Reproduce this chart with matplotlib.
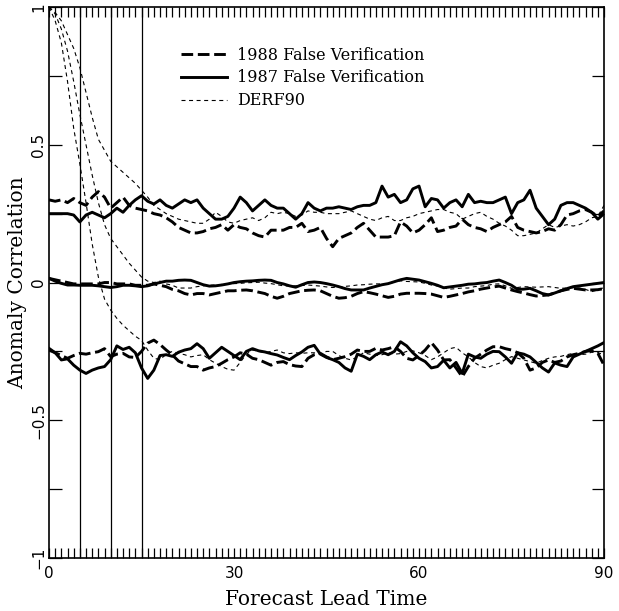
import matplotlib
matplotlib.use("Agg")
import matplotlib.pyplot as plt
import numpy as np

lead_time = list(range(0, 91))

top_1988 = [0.30, 0.295, 0.30, 0.29, 0.305, 0.29, 0.28, 0.31, 0.33, 0.31, 0.27, 0.29, 0.31, 0.28, 0.27,
            0.265, 0.26, 0.25, 0.245, 0.235, 0.22, 0.20, 0.19, 0.18, 0.18, 0.185, 0.195, 0.20, 0.21, 0.19,
            0.21, 0.20, 0.195, 0.18, 0.17, 0.165, 0.19, 0.19, 0.19, 0.20, 0.20, 0.215, 0.185, 0.19, 0.20,
            0.16, 0.13, 0.16, 0.17, 0.18, 0.20, 0.215, 0.19, 0.165, 0.165, 0.165, 0.17, 0.22, 0.205, 0.18,
            0.19, 0.21, 0.235, 0.185, 0.19, 0.20, 0.205, 0.23, 0.21, 0.20, 0.195, 0.185, 0.20, 0.21, 0.22,
            0.24, 0.20, 0.19, 0.185, 0.18, 0.185, 0.195, 0.19, 0.21, 0.245, 0.25, 0.26, 0.265, 0.255, 0.24,
            0.26]
top_1987 = [0.25, 0.25, 0.25, 0.25, 0.245, 0.22, 0.245, 0.255, 0.245, 0.235, 0.25, 0.27, 0.255, 0.28, 0.30,
            0.315, 0.295, 0.285, 0.30, 0.28, 0.27, 0.285, 0.30, 0.29, 0.30, 0.27, 0.25, 0.23, 0.23, 0.24,
            0.27, 0.31, 0.29, 0.26, 0.28, 0.30, 0.28, 0.27, 0.27, 0.25, 0.23, 0.25, 0.29, 0.27, 0.26,
            0.27, 0.27, 0.275, 0.27, 0.265, 0.275, 0.28, 0.28, 0.29, 0.35, 0.31, 0.32, 0.29, 0.30, 0.34,
            0.35, 0.275, 0.305, 0.30, 0.27, 0.29, 0.30, 0.275, 0.32, 0.29, 0.295, 0.29, 0.29, 0.30, 0.31,
            0.25, 0.29, 0.30, 0.335, 0.27, 0.24, 0.21, 0.23, 0.28, 0.29, 0.29, 0.28, 0.27, 0.255, 0.23,
            0.25]
top_derf = [1.0, 0.98, 0.95, 0.90, 0.85, 0.78, 0.69, 0.60, 0.52, 0.48, 0.44, 0.42, 0.40, 0.38, 0.36,
            0.335, 0.31, 0.28, 0.265, 0.25, 0.24, 0.23, 0.225, 0.22, 0.215, 0.215, 0.23, 0.255, 0.24, 0.22,
            0.215, 0.225, 0.23, 0.235, 0.225, 0.235, 0.255, 0.25, 0.255, 0.25, 0.24, 0.245, 0.26, 0.255, 0.255,
            0.25, 0.25, 0.25, 0.255, 0.26, 0.25, 0.24, 0.23, 0.225, 0.235, 0.24, 0.225, 0.225, 0.235, 0.24,
            0.25, 0.255, 0.26, 0.265, 0.265, 0.255, 0.25, 0.23, 0.24, 0.25, 0.255, 0.24, 0.23, 0.215, 0.205,
            0.19, 0.17, 0.17, 0.175, 0.18, 0.195, 0.21, 0.20, 0.205, 0.21, 0.205, 0.21, 0.22, 0.235, 0.24,
            0.28]

mid_1988 = [0.015, 0.01, 0.005, 0.0, -0.005, -0.005, -0.005, -0.005, -0.005, 0.0, 0.0, -0.005, -0.005, -0.005, -0.01,
            -0.01, -0.01, -0.005, -0.01, -0.015, -0.025, -0.03, -0.04, -0.045, -0.04, -0.04, -0.045, -0.04, -0.035, -0.03,
            -0.03, -0.028, -0.027, -0.03, -0.035, -0.04, -0.05, -0.057, -0.05, -0.04, -0.035, -0.03, -0.028, -0.027, -0.03,
            -0.04, -0.05, -0.057, -0.055, -0.05, -0.04, -0.033, -0.037, -0.042, -0.048, -0.054, -0.05, -0.042, -0.039, -0.039,
            -0.039, -0.04, -0.042, -0.048, -0.054, -0.05, -0.045, -0.04, -0.034, -0.03, -0.024, -0.02, -0.016, -0.013, -0.02,
            -0.027, -0.033, -0.038, -0.044, -0.049, -0.047, -0.045, -0.038, -0.03, -0.025, -0.021, -0.024, -0.027, -0.027, -0.026,
            -0.022]
mid_1987 = [0.015, 0.005, -0.003, -0.009, -0.009, -0.01, -0.01, -0.01, -0.012, -0.015, -0.018, -0.015, -0.01, -0.01, -0.012,
            -0.015, -0.012, -0.005, 0.0, 0.005, 0.005, 0.008, 0.009, 0.008, 0.0, -0.008, -0.013, -0.012, -0.009, -0.005,
            0.0, 0.003, 0.005, 0.006, 0.008, 0.009, 0.008, 0.0, -0.005, -0.012, -0.017, -0.008, 0.0, 0.002, 0.0,
            -0.004, -0.009, -0.015, -0.022, -0.027, -0.027, -0.027, -0.02, -0.014, -0.008, -0.004, 0.003, 0.01, 0.015, 0.012,
            0.009, 0.003, -0.003, -0.01, -0.019, -0.016, -0.013, -0.01, -0.006, -0.005, -0.002, 0.0, 0.005, 0.009, 0.0,
            -0.01, -0.025, -0.024, -0.021, -0.03, -0.04, -0.045, -0.038, -0.03, -0.022, -0.015, -0.012, -0.009, -0.006, -0.003,
            0.0]
mid_derf = [1.0, 0.975, 0.92, 0.84, 0.73, 0.61, 0.50, 0.39, 0.29, 0.21, 0.16, 0.13, 0.10, 0.07, 0.045,
            0.02, 0.005, 0.0, 0.005, -0.005, -0.01, -0.02, -0.02, -0.02, -0.015, -0.012, -0.01, -0.009, -0.007, -0.005,
            -0.004, -0.003, -0.001, 0.0, 0.001, -0.002, -0.004, -0.008, -0.012, -0.013, -0.012, -0.011, -0.009, -0.011, -0.013,
            -0.016, -0.018, -0.016, -0.014, -0.012, -0.009, -0.008, -0.006, -0.005, -0.005, -0.005, 0.002, 0.006, 0.004, 0.003,
            0.002, -0.003, -0.009, -0.013, -0.02, -0.024, -0.022, -0.02, -0.02, -0.015, -0.013, -0.011, -0.006, -0.005, -0.012,
            -0.021, -0.018, -0.015, -0.016, -0.017, -0.016, -0.015, -0.018, -0.021, -0.02, -0.019, -0.02, -0.025, -0.033, -0.027,
            -0.018]

bot_1988 = [-0.245, -0.255, -0.265, -0.275, -0.265, -0.257, -0.26, -0.255, -0.251, -0.24, -0.269, -0.26, -0.257, -0.27, -0.272,
            -0.25, -0.22, -0.209, -0.225, -0.245, -0.263, -0.285, -0.295, -0.305, -0.305, -0.318, -0.31, -0.305, -0.293, -0.28,
            -0.27, -0.255, -0.26, -0.275, -0.28, -0.29, -0.30, -0.29, -0.287, -0.298, -0.303, -0.305, -0.275, -0.262, -0.257,
            -0.27, -0.28, -0.275, -0.269, -0.26, -0.245, -0.25, -0.25, -0.239, -0.245, -0.24, -0.233, -0.25, -0.275, -0.281,
            -0.265, -0.245, -0.218, -0.245, -0.281, -0.28, -0.31, -0.342, -0.305, -0.275, -0.26, -0.245, -0.233, -0.233, -0.24,
            -0.245, -0.255, -0.275, -0.318, -0.31, -0.29, -0.281, -0.29, -0.285, -0.27, -0.262, -0.257, -0.25, -0.247, -0.257,
            -0.30]
bot_1987 = [-0.239, -0.255, -0.281, -0.277, -0.30, -0.318, -0.33, -0.318, -0.31, -0.305, -0.28, -0.23, -0.243, -0.235, -0.255,
            -0.31, -0.348, -0.318, -0.265, -0.262, -0.268, -0.253, -0.245, -0.24, -0.222, -0.24, -0.275, -0.255, -0.235, -0.25,
            -0.265, -0.28, -0.25, -0.24, -0.248, -0.252, -0.258, -0.263, -0.272, -0.28, -0.265, -0.252, -0.235, -0.228, -0.26,
            -0.272, -0.28, -0.29, -0.31, -0.322, -0.26, -0.268, -0.28, -0.262, -0.252, -0.262, -0.25, -0.215, -0.23, -0.255,
            -0.275, -0.287, -0.31, -0.305, -0.282, -0.31, -0.29, -0.33, -0.26, -0.27, -0.275, -0.26, -0.25, -0.251, -0.27,
            -0.293, -0.255, -0.26, -0.27, -0.29, -0.31, -0.325, -0.292, -0.30, -0.305, -0.27, -0.26, -0.25, -0.24, -0.23,
            -0.218]
bot_derf = [1.0, 0.95, 0.87, 0.73, 0.56, 0.43, 0.29, 0.14, 0.02, -0.06, -0.10, -0.13, -0.155, -0.175, -0.195,
            -0.21, -0.245, -0.275, -0.28, -0.26, -0.25, -0.257, -0.262, -0.27, -0.265, -0.262, -0.28, -0.293, -0.305, -0.315,
            -0.318, -0.29, -0.26, -0.245, -0.25, -0.255, -0.25, -0.245, -0.255, -0.258, -0.255, -0.257, -0.255, -0.255, -0.26,
            -0.25, -0.25, -0.265, -0.275, -0.281, -0.27, -0.255, -0.26, -0.265, -0.262, -0.255, -0.26, -0.258, -0.25, -0.248,
            -0.255, -0.265, -0.28, -0.27, -0.255, -0.24, -0.235, -0.255, -0.27, -0.29, -0.305, -0.31, -0.30, -0.293, -0.28,
            -0.269, -0.275, -0.281, -0.287, -0.293, -0.283, -0.275, -0.27, -0.268, -0.262, -0.257, -0.262, -0.26, -0.253, -0.255,
            -0.262]

vertical_marks = [5, 10, 15]
series_labels = ["1988 False Verification", "1987 False Verification", "DERF90"]
x_ticks = [0, 30, 60, 90]
y_ticks = [-1, -0.75, -0.5, -0.25, 0, 0.25, 0.5, 0.75, 1]
y_tick_labels = ["\u22121", "", "\u22120.5", "", "0", "", "0.5", "", "1"]

SERIF = ["DejaVu Serif"]

fig = plt.figure(figsize=(6.19, 6.11), dpi=100)
ax = fig.add_axes([0.0792, 0.0867, 0.8966, 0.9018])

dash_thick = (4, 1.6)
dash_thin = (3.6, 3.2)

for xv in vertical_marks:
    ax.axvline(xv, color="black", lw=0.9, zorder=1)

h88 = None
for data in (top_1988, mid_1988, bot_1988):
    h88, = ax.plot(lead_time, data, color="black", lw=2.1, dashes=dash_thick, zorder=3)
h87 = None
for data in (top_1987, mid_1987, bot_1987):
    h87, = ax.plot(lead_time, data, color="black", lw=2.1, zorder=3)
hd = None
for data in (top_derf, mid_derf, bot_derf):
    hd, = ax.plot(lead_time, data, color="black", lw=0.8, dashes=dash_thin, zorder=2)

ax.set_xlim(0, 90)
ax.set_ylim(-1, 1)
ax.set_xticks(x_ticks)
ax.set_xticks(np.arange(0, 91, 1), minor=True)
ax.set_yticks(y_ticks)
ax.set_yticklabels(y_tick_labels, rotation=90, va="center")
ax.tick_params(axis="x", which="both", direction="in", top=True, bottom=True,
               length=7, width=0.9, labelsize=11, pad=6)
ax.tick_params(axis="y", which="both", direction="in", left=True, right=True,
               length=9, width=0.9, labelsize=11, pad=2)
for s in ax.spines.values():
    s.set_linewidth(1.2)

ax.set_xlabel("Forecast Lead Time", fontsize=14.5, family=SERIF, labelpad=6)
ax.set_ylabel("Anomaly Correlation", fontsize=14.5, family=SERIF, labelpad=3)

leg = ax.legend([h88, h87, hd], series_labels, loc="upper left",
                bbox_to_anchor=(0.238, 0.928), frameon=False, borderpad=0,
                borderaxespad=0, handlelength=2.9, handletextpad=0.6,
                labelspacing=0.36, prop={"family": SERIF, "size": 11.5})

fig.savefig("out.png", dpi=100)
